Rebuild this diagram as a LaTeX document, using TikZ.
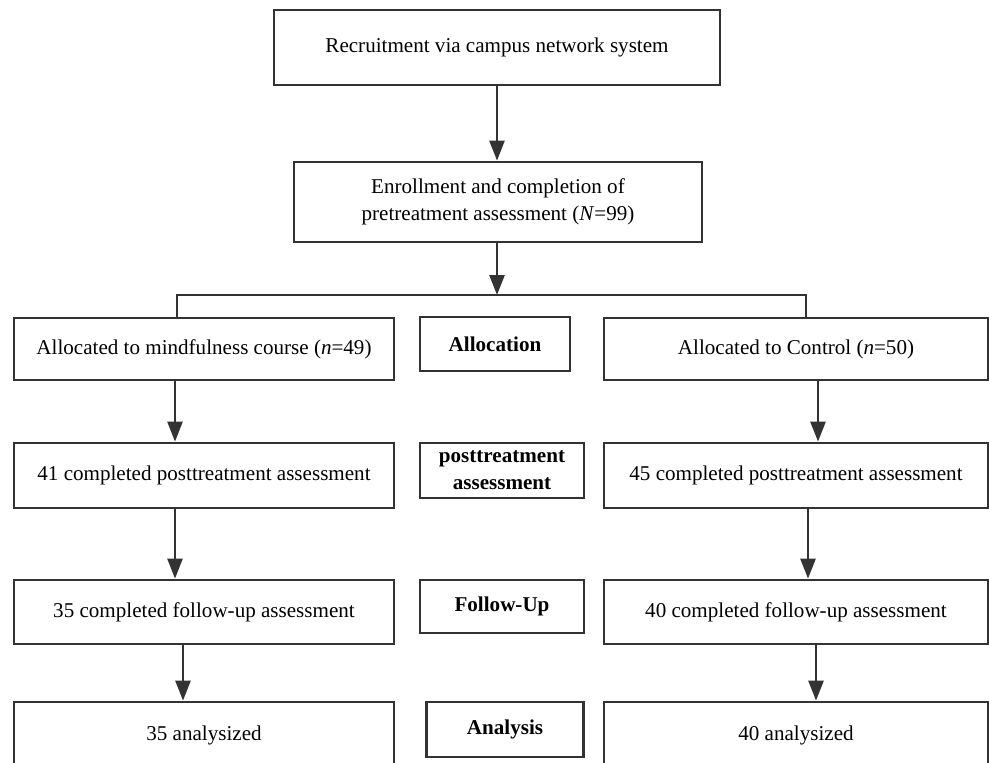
\documentclass[tikz,border=0pt]{standalone}
\usepackage{fontspec}
\setmainfont{Liberation Serif}
\usetikzlibrary{arrows.meta}
\begin{document}
\begin{tikzpicture}[x=0.02cm,y=-0.02cm,
        box/.style={draw=black!80,line width=1.6pt,inner sep=0pt,align=center,
                font=\fontsize{12}{15.4}\selectfont},
        side/.style={box,minimum width=7.6cm},
        stagebox/.style={box,font=\fontsize{12}{15.4}\selectfont\bfseries},
        arr/.style={draw=black!80,line width=1.5pt,-{Triangle[length=0.4cm,width=0.3cm]}}]
    \clip (0,0) rectangle (989,762);

    % top of the chart
    \node[box,minimum width=8.92cm,minimum height=1.5cm] (rec) at (497,47.5)
        {Recruitment via campus network system};
    \node[box,minimum width=8.16cm,minimum height=1.6cm] (enr) at (498,202)
        {Enrollment and completion of\\pretreatment assessment (\textit{N}=99)};
    \coordinate (split) at (497,295);

    % mindfulness arm
    \node[side,minimum height=1.24cm] (mind) at (204,349)
        {Allocated to mindfulness course (\textit{n}=49)};
    \node[side,minimum height=1.3cm] (post1) at (204,475.5)
        {41 completed posttreatment assessment};
    \node[side,minimum height=1.28cm] (fu1) at (204,612)
        {35 completed follow-up assessment};
    \node[side,minimum height=1.32cm] (an1) at (204,735)
        {35 analysized};

    % stages
    \node[stagebox,minimum width=3cm,minimum height=1.08cm] (alloc) at (495,344)
        {Allocation};
    \node[stagebox,minimum width=3.28cm,minimum height=1.1cm] (post0) at (502,470.5)
        {posttreatment\\assessment};
    \node[stagebox,minimum width=3.28cm,minimum height=1.06cm] (fu0) at (502,606.5)
        {Follow-Up};
    \node[stagebox,minimum width=3.14cm,minimum height=1.1cm] (an0) at (505,729.5)
        {Analysis};

    % control arm
    \node[side,minimum width=7.68cm,minimum height=1.24cm] (ctrl) at (796,349)
        {Allocated to Control (\textit{n}=50)};
    \node[side,minimum width=7.68cm,minimum height=1.3cm] (post2) at (796,475.5)
        {45 completed posttreatment assessment};
    \node[side,minimum width=7.68cm,minimum height=1.28cm] (fu2) at (796,612)
        {40 completed follow-up assessment};
    \node[side,minimum width=7.68cm,minimum height=1.32cm] (an2) at (796,735)
        {40 analysized};

    \draw[arr] (rec.south) -- (enr.north -| rec.south);
    \draw[arr] (enr.south -| split) -- (split);
    \draw[draw=black!80,line width=1.6pt] (177,0 |- mind.north) -- (177,0 |- split)
        -- (806,0 |- split) -- (806,0 |- ctrl.north);

    \draw[arr] (175,0 |- mind.south) -- (175,0 |- post1.north);
    \draw[arr] (175,0 |- post1.south) -- (175,0 |- fu1.north);
    \draw[arr] (183,0 |- fu1.south) -- (183,0 |- an1.north);
    \draw[arr] (818,0 |- ctrl.south) -- (818,0 |- post2.north);
    \draw[arr] (808,0 |- post2.south) -- (808,0 |- fu2.north);
    \draw[arr] (816,0 |- fu2.south) -- (816,0 |- an2.north);
\end{tikzpicture}
\end{document}
